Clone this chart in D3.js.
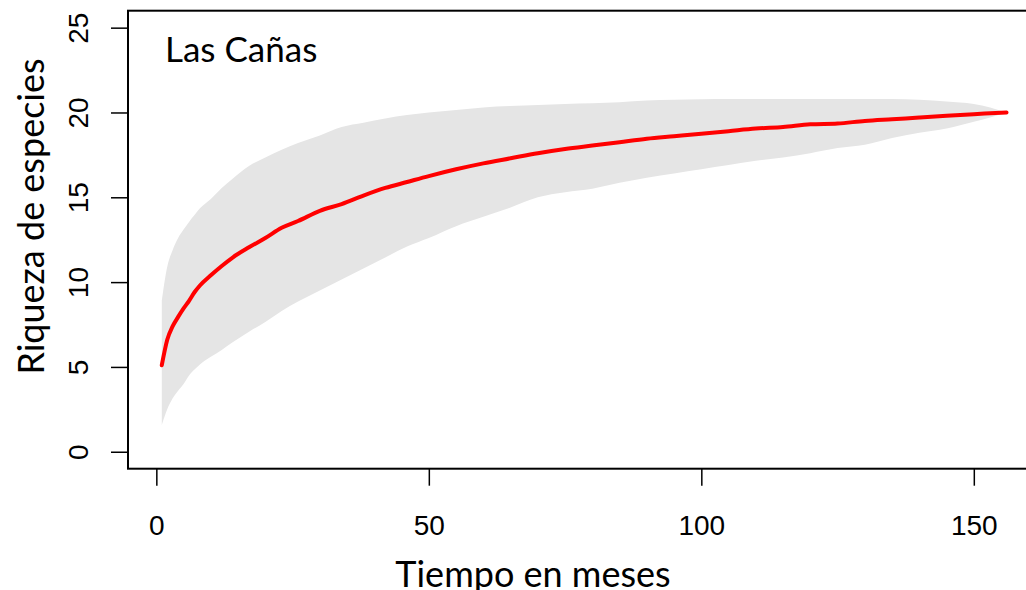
<!DOCTYPE html>
<html>
<head>
<meta charset="utf-8">
<script src="https://cdn.jsdelivr.net/npm/d3@7/dist/d3.min.js"></script>
<style>
  html, body { margin: 0; padding: 0; background: #fff; }
  svg { display: block; }
  .tick-label { font-family: "Liberation Sans", Arial, sans-serif; font-size: 28px; fill: #000; }
  .title-text { font-family: Lato, "Open Sans", sans-serif; fill: #000; }
</style>
</head>
<body>
<svg id="chart" width="1026" height="590"></svg>
<script>
// Species accumulation over time: mean richness with its confidence band
const months = [1, 2, 3, 4, 5, 6, 7, 8, 10, 12, 14, 17, 20, 23, 26, 30, 34, 38, 42, 46, 50,
  55, 60, 65, 70, 75, 80, 85, 90, 95, 100, 105, 110, 115, 120, 125, 130, 135, 140, 145, 150, 153, 156];
const richness = [5.1, 6.6, 7.4, 7.95, 8.45, 8.9, 9.4, 9.8, 10.4, 10.95, 11.45, 12.05, 12.6, 13.2, 13.6,
  14.2, 14.6, 15.1, 15.55, 15.9, 16.25, 16.65, 17.0, 17.3, 17.6, 17.85, 18.05, 18.25, 18.45, 18.6,
  18.75, 18.9, 19.05, 19.15, 19.3, 19.35, 19.5, 19.6, 19.7, 19.8, 19.9, 19.95, 20.0];
const upperCI = [8.9, 10.9, 11.9, 12.6, 13.1, 13.55, 13.95, 14.35, 14.9, 15.55, 16.1, 16.85, 17.35, 17.8,
  18.2, 18.65, 19.15, 19.4, 19.65, 19.85, 20.0, 20.15, 20.3, 20.38, 20.44, 20.5, 20.54, 20.6, 20.7,
  20.75, 20.78, 20.8, 20.8, 20.8, 20.8, 20.8, 20.8, 20.8, 20.75, 20.65, 20.5, 20.3, 20.0];
const lowerCI = [1.57, 2.5, 3.15, 3.6, 4.0, 4.5, 4.85, 5.15, 5.6, 6.0, 6.45, 7.08, 7.65, 8.3, 8.85, 9.5,
  10.15, 10.8, 11.45, 12.1, 12.6, 13.3, 13.85, 14.4, 15.0, 15.3, 15.5, 15.85, 16.15, 16.4, 16.65,
  16.9, 17.15, 17.35, 17.6, 17.9, 18.1, 18.5, 18.8, 19.05, 19.45, 19.7, 20.0];

const xTicks = [0, 50, 100, 150];
const yTicks = [0, 5, 10, 15, 20, 25];
const siteName = "Las Cañas";
const xTitle = "Tiempo en meses";
const yTitle = "Riqueza de especies";

const svg = d3.select("#chart");

// plot region (R-style 4% padding on each axis range)
const x = d3.scaleLinear().domain([-5.2, 162.2]).range([128, 1040.3]);
const y = d3.scaleLinear().domain([-1, 26]).range([468.7, 10.7]);

const rows = months.map((m, i) => ({ m, mean: richness[i], lo: lowerCI[i], hi: upperCI[i] }));

// confidence band
svg.append("path")
  .datum(rows)
  .attr("fill", "#e5e5e5")
  .attr("stroke", "none")
  .attr("d", d3.area()
    .x(d => x(d.m))
    .y0(d => y(d.lo))
    .y1(d => y(d.hi))
    .curve(d3.curveMonotoneX));

// mean accumulation curve
svg.append("path")
  .datum(rows)
  .attr("fill", "none")
  .attr("stroke", "#ff0000")
  .attr("stroke-width", 4)
  .attr("stroke-linejoin", "round")
  .attr("stroke-linecap", "round")
  .attr("d", d3.line()
    .x(d => x(d.m))
    .y(d => y(d.mean))
    .curve(d3.curveMonotoneX));

// plot frame
svg.append("rect")
  .attr("x", 128).attr("y", 10.7)
  .attr("width", 1040.3 - 128).attr("height", 468.7 - 10.7)
  .attr("fill", "none")
  .attr("stroke", "#000")
  .attr("stroke-width", 2);

// bottom axis
const xAxis = svg.append("g")
  .attr("transform", "translate(0,468.7)")
  .call(d3.axisBottom(x).tickValues(xTicks).tickSize(17).tickPadding(0).tickFormat(d3.format("d")));
xAxis.select(".domain").remove();
xAxis.selectAll(".tick line").attr("stroke", "#000").attr("stroke-width", 1.5);
xAxis.selectAll(".tick text")
  .attr("class", "tick-label")
  .attr("y", 66)
  .attr("dy", null)
  .style("font-size", "28px")
  .style("font-family", "'Liberation Sans', Arial, sans-serif");

// left axis with rotated labels
const yAxis = svg.append("g")
  .attr("transform", "translate(128,0)")
  .call(d3.axisLeft(y).tickValues(yTicks).tickSize(17).tickFormat(d3.format("d")));
yAxis.select(".domain").remove();
yAxis.selectAll(".tick line").attr("stroke", "#000").attr("stroke-width", 1.5);
yAxis.selectAll(".tick text")
  .attr("class", "tick-label")
  .attr("x", null)
  .attr("dy", null)
  .attr("text-anchor", "middle")
  .attr("transform", "translate(-40,0) rotate(-90)")
  .style("font-size", "28px")
  .style("font-family", "'Liberation Sans', Arial, sans-serif");

// site label
svg.append("text")
  .attr("class", "title-text")
  .attr("x", 165).attr("y", 62)
  .style("font-size", "35px")
  .text(siteName);

// axis titles
svg.append("text")
  .attr("class", "title-text")
  .attr("x", 533).attr("y", 587)
  .attr("text-anchor", "middle")
  .style("font-size", "36px")
  .text(xTitle);

svg.append("text")
  .attr("class", "title-text")
  .attr("text-anchor", "middle")
  .attr("transform", "translate(44,216.5) rotate(-90)")
  .style("font-size", "36px")
  .text(yTitle);
</script>
</body>
</html>
